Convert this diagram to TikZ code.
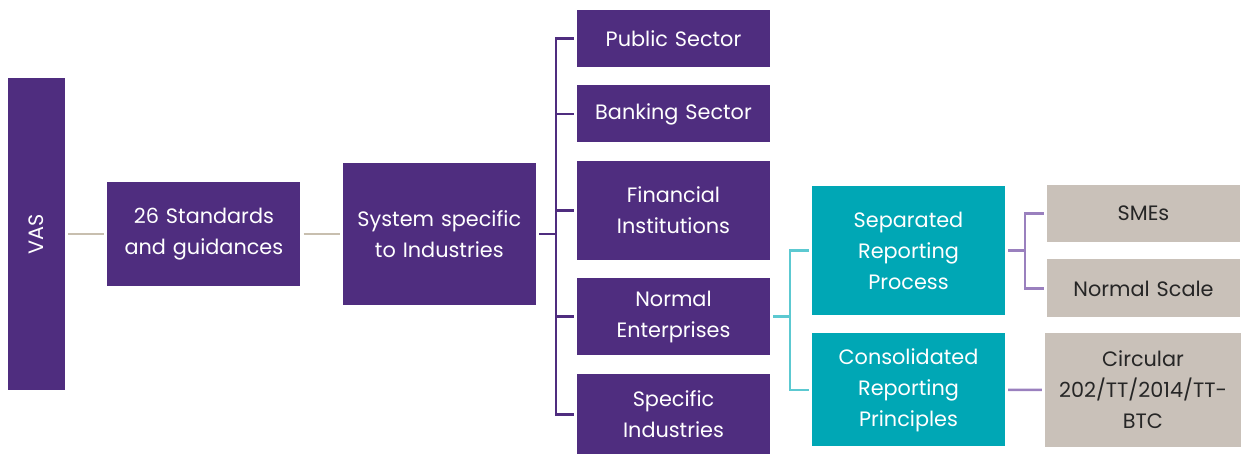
\documentclass[tikz,border=0pt]{standalone}
\usepackage{fontspec}
\setmainfont{Poppins}
\usetikzlibrary{positioning}
\definecolor{vaspurple}{HTML}{4F2D7F}
\definecolor{vasteal}{HTML}{00A7B5}
\definecolor{vasgrey}{HTML}{C9C1B9}
\definecolor{vastan}{HTML}{C8BFAF}
\definecolor{vaslteal}{HTML}{5CC9D1}
\definecolor{vaslilac}{HTML}{9A80BE}
\tikzset{
  pb/.style={rectangle, minimum width=193pt, text width=188pt, align=center, inner sep=0pt, fill=vaspurple, text=white, font=\fontsize{20.8}{31}\selectfont},
  tb/.style={pb, fill=vasteal},
  gb/.style={pb, fill=vasgrey, text=black!85},
  ln/.style={line width=2.5pt, shorten <=3pt, shorten >=3pt},
  node distance=18pt and 42pt
}

\begin{document}
\begin{tikzpicture}
	\useasboundingbox (0,0) rectangle (1247pt,-454pt);

	\node[pb, minimum width=57pt, text width=50pt, minimum height=312pt] (vas) at (36.5pt,-234pt) {\rotatebox{90}{VAS}};
	\node[pb, minimum height=104pt, right=of vas] (std) {26 Standards\\and guidances};
	\node[pb, minimum height=142pt, right=of std] (sys) {System specific\\to Industries};

	\node[pb, minimum height=57pt] (pub) at (673.5pt,-38.5pt) {Public Sector};
	\node[pb, minimum height=57pt, below=of pub] (bank) {Banking Sector};
	\node[pb, minimum height=99pt, below=of bank] (fin) {Financial\\Institutions};
	\node[pb, minimum height=77pt, below=of fin] (norm) {Normal\\Enterprises};
	\node[pb, minimum height=82pt, below=of norm] (spec) {Specific\\Industries};

	\node[tb, minimum height=129pt] (sep) at (908.5pt,-250.5pt) {Separated\\Reporting\\Process};
	\node[tb, minimum height=113pt, below=of sep] (cons) {Consolidated\\Reporting\\Principles};

	\node[gb, minimum height=57pt] (sme) at (1143.5pt,-213.5pt) {SMEs};
	\node[gb, minimum height=58pt, below=17pt of sme] (nsc) {Normal Scale};
	\node[gb, minimum width=196pt, minimum height=114pt] (circ) at (1143pt,-390pt) {Circular\\202/TT/2014/TT-\\BTC};

	\draw[ln, vastan] (vas) -- (std);
	\draw[ln, vastan] (std) -- (sys);

	\draw[ln, vaspurple] (sys.east) -- ++(20pt,0) |- (pub);
	\draw[ln, vaspurple] (sys.east) -- ++(20pt,0) |- (bank);
	\draw[ln, vaspurple] (sys.east) -- ++(20pt,0) |- (fin);
	\draw[ln, vaspurple] (sys.east) -- ++(20pt,0) |- (norm);
	\draw[ln, vaspurple] (sys.east) -- ++(20pt,0) |- (spec);

	\draw[ln, vaslteal] (norm.east) -- ++(20pt,0) |- (sep);
	\draw[ln, vaslteal] (norm.east) -- ++(20pt,0) |- (cons);

	\draw[ln, vaslilac] (sep.east) -- ++(20pt,0) |- (sme);
	\draw[ln, vaslilac] (sep.east) -- ++(20pt,0) |- (nsc);
	\draw[ln, vaslilac] (cons) -- (circ);
\end{tikzpicture}
\end{document}
